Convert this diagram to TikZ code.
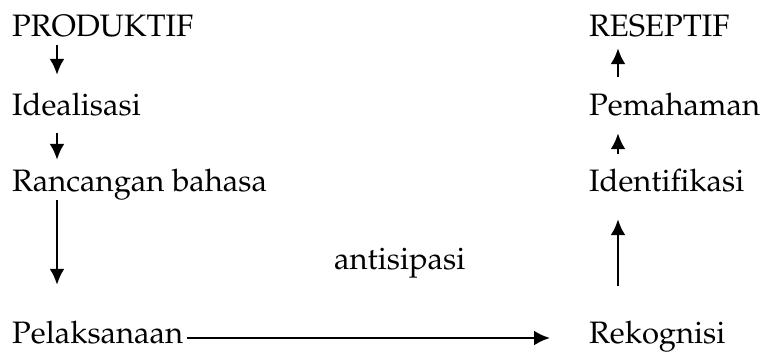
\documentclass[tikz,border=0pt]{standalone}
\usepackage[T1]{fontenc}
\usepackage{mathpazo}
\usetikzlibrary{arrows.meta}
\tikzset{
  lbl/.style={inner sep=0pt, anchor=base west, text height=20pt, text depth=6pt,
    font=\fontsize{31}{37}\selectfont},
  arr/.style={-{Latex[length=16pt,width=15pt]}, line width=2.6pt}}

\begin{document}
\begin{tikzpicture}[x=1pt, y=-1pt]
    \useasboundingbox (0,0) rectangle (767,353);

    % left side
    \node[lbl] (produktif) at (12,37)  {PRODUKTIF};
    \node[lbl] (ideal)     at (12,115) {Idealisasi};
    \node[lbl] (rancang)   at (12,191) {Rancangan bahasa};
    \node[lbl] (laksana)   at (12,343) {Pelaksanaan};

    % right side
    \node[lbl] (reseptif)  at (589,37)  {RESEPTIF};
    \node[lbl] (paham)     at (589,115) {Pemahaman};
    \node[lbl] (identif)   at (589,191) {Identifikasi};
    \node[lbl] (rekog)     at (589,343) {Rekognisi};

    \node[lbl] (antisip)   at (334,269) {antisipasi};

    \draw[arr, shorten <=2pt, shorten >=20pt] ([xshift=45pt]produktif.south west) -- ([xshift=45pt]ideal.north west);
    \draw[arr, shorten <=12pt, shorten >=11pt] ([xshift=45pt]ideal.south west) -- ([xshift=45pt]rancang.north west);
    \draw[arr, shorten <=3pt, shorten >=38pt] ([xshift=45pt]rancang.south west) -- ([xshift=45pt]laksana.north west);

    \draw[arr, shorten <=4pt, shorten >=39pt] ([yshift=5pt]laksana.base east) -- ([yshift=5pt]rekog.base west);

    \draw[arr, shorten <=37pt, shorten >=22pt] ([xshift=29pt]rekog.north west) -- ([xshift=29pt]identif.south west);
    \draw[arr, shorten <=17pt, shorten >=12pt] ([xshift=29pt]identif.north west) -- ([xshift=29pt]paham.south west);
    \draw[arr, shorten <=18pt, shorten >=5pt] ([xshift=29pt]paham.north west) -- ([xshift=29pt]reseptif.south west);
\end{tikzpicture}
\end{document}
